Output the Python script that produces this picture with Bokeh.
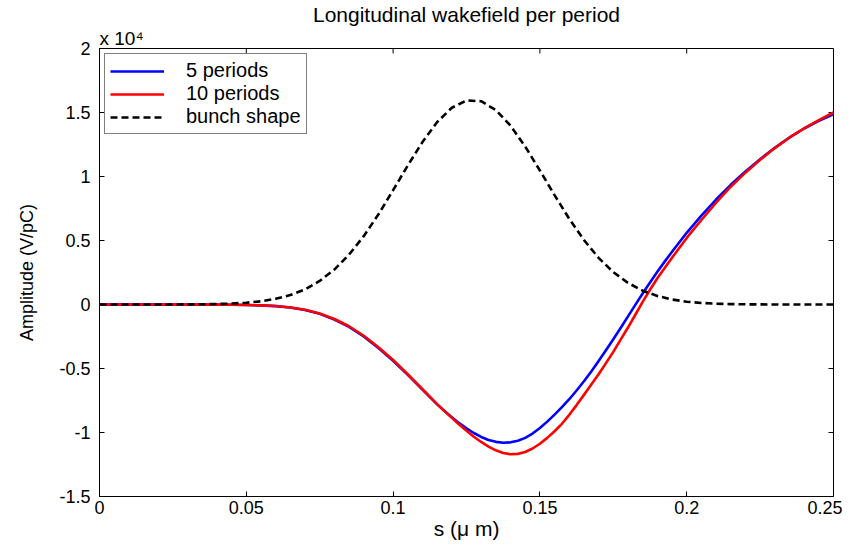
import math
from bokeh.plotting import figure
from bokeh.models import FixedTicker, Range1d, Legend, LegendItem, Title
from bokeh.embed import file_html
from bokeh.resources import INLINE

# ---- data (amplitudes in units of 10^4 V/pC, s in micrometres) ----
s_wake = [0.000, 0.005, 0.010, 0.015, 0.020, 0.025, 0.030, 0.035, 0.040, 0.045,
          0.050, 0.055, 0.060, 0.065, 0.070, 0.075, 0.080, 0.085, 0.090, 0.095,
          0.100, 0.105, 0.110,
          0.1150, 0.1175, 0.1200, 0.1225, 0.1250, 0.1275, 0.1300, 0.1325, 0.1350, 0.1375,
          0.1400, 0.1425, 0.1450, 0.1475, 0.1500, 0.1525, 0.1550, 0.1575, 0.1600, 0.1625,
          0.1650, 0.1675, 0.1700, 0.1725, 0.1750, 0.1775, 0.1800, 0.1825, 0.1850, 0.1875,
          0.1900, 0.1925, 0.1950,
          0.200, 0.205, 0.210, 0.215, 0.220, 0.225, 0.230, 0.235, 0.240, 0.245, 0.250]

wake_5_periods = [0, 0, 0, 0, 0, 0, 0, -0.0005, -0.001, -0.002,
                  -0.004, -0.007, -0.013, -0.024, -0.043, -0.073, -0.117, -0.175, -0.250, -0.340,
                  -0.440, -0.550, -0.665,
                  -0.780, -0.832, -0.880, -0.927, -0.968, -1.004, -1.035, -1.058, -1.073, -1.080,
                  -1.077, -1.064, -1.042, -1.008, -0.965, -0.915, -0.860, -0.802, -0.740, -0.672,
                  -0.600, -0.523, -0.442, -0.358, -0.272, -0.183, -0.093, -0.003, 0.086, 0.172,
                  0.255, 0.335, 0.412,
                  0.560, 0.695, 0.820, 0.935, 1.040, 1.135, 1.225, 1.305, 1.375, 1.435, 1.485]

wake_10_periods = [0, 0, 0, 0, 0, 0, 0, -0.0005, -0.001, -0.002,
                   -0.004, -0.007, -0.012, -0.023, -0.041, -0.070, -0.113, -0.170, -0.244, -0.334,
                   -0.434, -0.545, -0.662,
                   -0.778, -0.833, -0.886, -0.938, -0.987, -1.033, -1.074, -1.110, -1.139, -1.160,
                   -1.170, -1.167, -1.152, -1.125, -1.088, -1.042, -0.990, -0.932, -0.862, -0.786,
                   -0.706, -0.625, -0.545, -0.458, -0.370, -0.275, -0.180, -0.080, 0.020, 0.115,
                   0.205, 0.285, 0.365,
                   0.520, 0.660, 0.795, 0.920, 1.030, 1.130, 1.222, 1.303, 1.376, 1.440, 1.500]

s_bunch = [0.000, 0.005, 0.010, 0.015, 0.020, 0.025, 0.030, 0.035, 0.040, 0.045,
           0.050, 0.055, 0.060, 0.065, 0.070, 0.075, 0.080, 0.085, 0.090, 0.095,
           0.100, 0.105, 0.110, 0.115, 0.120, 0.125, 0.130, 0.135, 0.140, 0.145,
           0.150, 0.155, 0.160, 0.165, 0.170, 0.175, 0.180, 0.185, 0.190, 0.195,
           0.200, 0.205, 0.210, 0.215, 0.220, 0.225, 0.230, 0.235, 0.240, 0.245,
           0.250]

bunch_shape = [0, 0, 0, 0, 0.0002, 0.0004, 0.0009, 0.0018, 0.0037, 0.0074,
               0.014, 0.025, 0.045, 0.074, 0.118, 0.184, 0.273, 0.390, 0.534, 0.704,
               0.893, 1.086, 1.269, 1.425, 1.537, 1.594, 1.588, 1.519, 1.397, 1.234,
               1.047, 0.854, 0.669, 0.504, 0.364, 0.253, 0.169, 0.108, 0.067, 0.039,
               0.022, 0.012, 0.0065, 0.0032, 0.0016, 0.0007, 0.0003, 0.0001, 0, 0,
               0]

series_labels = ["5 periods", "10 periods", "bunch shape"]

x_ticks = [0, 0.05, 0.1, 0.15, 0.2, 0.25]
x_tick_labels = ["0", "0.05", "0.1", "0.15", "0.2", "0.25"]
y_ticks = [-1.5, -1, -0.5, 0, 0.5, 1, 1.5, 2]
y_tick_labels = ["-1.5", "-1", "-0.5", "0", "0.5", "1", "1.5", "2"]

title_text = "Longitudinal wakefield per period"
exponent_text = "x 10\u2074"
x_label = "s (\u03bc m)"
y_label = "Amplitude (V/pC)"

FONT = "Liberation Sans"

p = figure(width=842, height=544, output_backend="svg", toolbar_location=None,
           x_range=Range1d(x_ticks[0], x_ticks[-1]), y_range=Range1d(y_ticks[0], y_ticks[-1]),
           title=None,
           min_border_left=99, min_border_right=9, min_border_top=45, min_border_bottom=48)

p.background_fill_color = "white"
p.border_fill_color = "white"
p.outline_line_color = "black"
p.outline_line_width = 1
p.grid.visible = False

# titles: first added sits closest to the frame
p.add_layout(Title(text=exponent_text, align="left", text_font=FONT, text_font_size="19px",
                   text_font_style="normal", text_color="black", standoff=0), "above")
p.add_layout(Title(text=title_text, align="center", text_font=FONT, text_font_size="21px",
                   text_font_style="normal", text_color="black", standoff=0), "above")

def style_axis(ax, ticks, labels):
    ax.ticker = FixedTicker(ticks=ticks)
    ax.major_label_overrides = {t: l for t, l in zip(ticks, labels)}
    ax.major_tick_in = 5
    ax.major_tick_out = 0
    ax.minor_tick_line_color = None
    ax.axis_line_color = "black"
    ax.major_tick_line_color = "black"
    ax.major_label_text_font = FONT
    ax.major_label_text_color = "black"
    ax.major_label_text_font_size = "18px"
    ax.axis_label_text_font = FONT
    ax.axis_label_text_font_style = "normal"
    ax.axis_label_text_color = "black"

style_axis(p.xaxis[0], x_ticks, x_tick_labels)
style_axis(p.yaxis[0], y_ticks, y_tick_labels)
p.xaxis[0].major_label_standoff = 4
p.xaxis[0].axis_label = x_label
p.xaxis[0].axis_label_text_font_size = "21px"
p.xaxis[0].axis_label_standoff = 0
p.yaxis[0].major_label_standoff = 9
p.yaxis[0].axis_label = y_label
p.yaxis[0].axis_label_text_font_size = "18px"
p.yaxis[0].axis_label_standoff = 19

# inward ticks on the top and right edges of the box
p.ray(x=x_ticks, y=[y_ticks[-1]] * len(x_ticks), length=5, length_units="screen",
      angle=-math.pi / 2, line_color="black", line_width=1)
p.ray(x=[x_ticks[-1]] * len(y_ticks), y=y_ticks, length=5, length_units="screen",
      angle=math.pi, line_color="black", line_width=1)

r5 = p.line(s_wake, wake_5_periods, line_color="#0000ff", line_width=2.6, line_join="round")
r10 = p.line(s_wake, wake_10_periods, line_color="#ff0000", line_width=2.6, line_join="round")
rb = p.line(s_bunch, bunch_shape, line_color="black", line_width=2.6, line_dash="7 4")

legend = Legend(items=[LegendItem(label=series_labels[0], renderers=[r5]),
                       LegendItem(label=series_labels[1], renderers=[r10]),
                       LegendItem(label=series_labels[2], renderers=[rb])],
                location="top_left")
legend.label_text_font = FONT
legend.label_text_font_size = "20px"
legend.label_text_color = "black"
legend.border_line_color = "black"
legend.border_line_width = 1
legend.background_fill_alpha = 1
legend.glyph_width = 54
legend.glyph_height = 20
legend.label_height = 20
legend.label_standoff = 22
legend.spacing = 0
legend.padding = 5
legend.margin = 5
p.add_layout(legend, "center")

open("out.html", "w").write(file_html(p, INLINE))
